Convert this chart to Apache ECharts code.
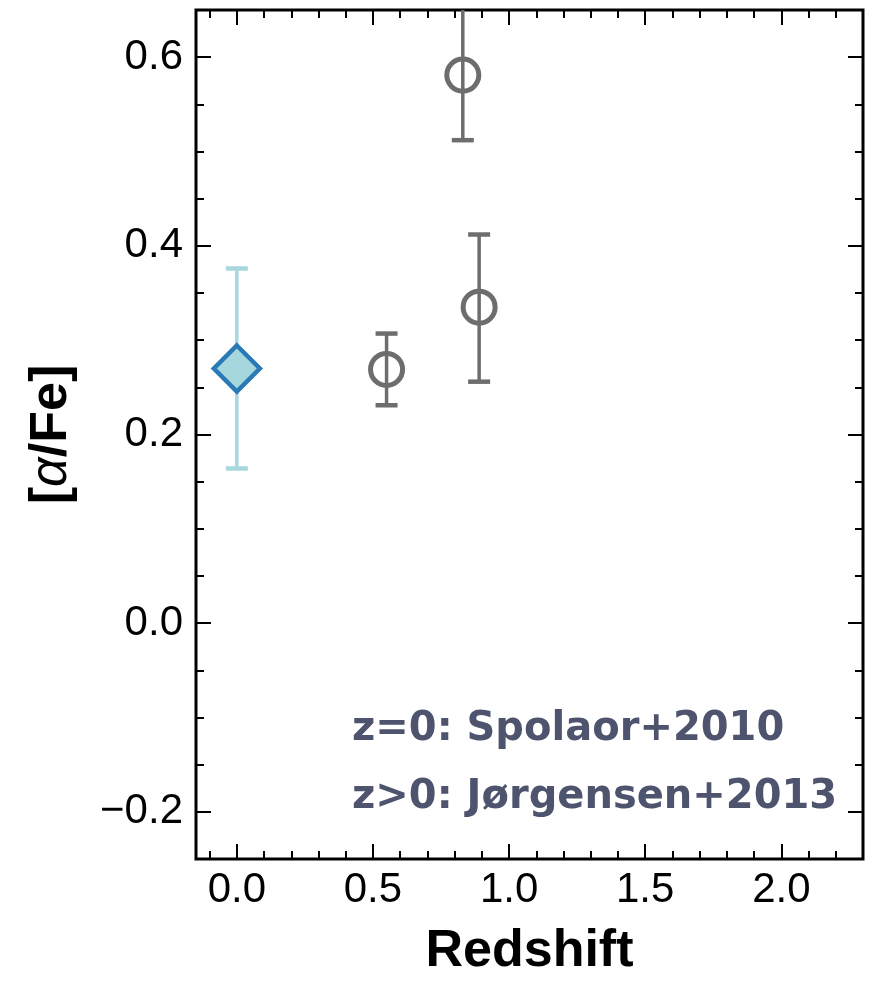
<!DOCTYPE html>
<html>
<head>
<meta charset="utf-8">
<script src="https://cdn.jsdelivr.net/npm/echarts@6/dist/echarts.min.js"></script>
<style>
html,body{margin:0;padding:0;background:#fff;}
#chart{width:875px;height:981px;}
</style>
</head>
<body>
<div id="chart"></div>
<script>
// ---- data ----
const spolaorZ = [0.0];
const spolaorAFe = [0.270];
const spolaorLo = [0.164];
const spolaorHi = [0.376];

const jorgZ = [0.55, 0.83, 0.89];
const jorgAFe = [0.269, 0.581, 0.335];
const jorgLo = [0.231, 0.512, 0.256];
const jorgHi = [0.307, 0.660, 0.412];

const xMajorTicks = [0.0, 0.5, 1.0, 1.5, 2.0];
const xTickLabels = ['0.0', '0.5', '1.0', '1.5', '2.0'];
const xMinorTicks = [-0.1, 0.1, 0.2, 0.3, 0.4, 0.6, 0.7, 0.8, 0.9, 1.1, 1.2, 1.3, 1.4, 1.6, 1.7, 1.8, 1.9, 2.1, 2.2];
const yMajorTicks = [-0.2, 0.0, 0.2, 0.4, 0.6];
const yTickLabels = ['\u22120.2', '0.0', '0.2', '0.4', '0.6'];
const yMinorTicks = [-0.15, -0.1, -0.05, 0.05, 0.1, 0.15, 0.25, 0.3, 0.35, 0.45, 0.5, 0.55];

const annotationLines = ['z=0: Spolaor+2010', 'z>0: J\u00f8rgensen+2013'];

// ---- chart ----
const X_MIN = -0.15, X_MAX = 2.3, Y_MIN = -0.25, Y_MAX = 0.65;
const chart = echarts.init(document.getElementById('chart'), null, {renderer: 'canvas'});

function fmt(labels, ticks) {
  return function (v) {
    for (let i = 0; i < ticks.length; i++) if (Math.abs(ticks[i] - v) < 1e-9) return labels[i];
    return '';
  };
}

function xAxisDef(pos, ticks, len, withLabels) {
  return {
    type: 'value', gridIndex: 0, position: pos, min: X_MIN, max: X_MAX,
    axisLine: {show: false, onZero: false},
    splitLine: {show: false},
    axisTick: {show: true, inside: true, length: len, customValues: ticks, lineStyle: {color: '#000', width: 2}},
    axisLabel: withLabels ? {
      show: true, customValues: xMajorTicks, formatter: fmt(xTickLabels, xMajorTicks),
      fontFamily: 'Liberation Sans', fontSize: 42, color: '#000', margin: 10
    } : {show: false}
  };
}
function yAxisDef(pos, ticks, len, withLabels) {
  return {
    type: 'value', gridIndex: 0, position: pos, min: Y_MIN, max: Y_MAX,
    axisLine: {show: false, onZero: false},
    splitLine: {show: false},
    axisTick: {show: true, inside: true, length: len, customValues: ticks, lineStyle: {color: '#000', width: 2}},
    axisLabel: withLabels ? {
      show: true, customValues: yMajorTicks, formatter: fmt(yTickLabels, yMajorTicks),
      fontFamily: 'Liberation Sans', fontSize: 42, color: '#000', margin: 13
    } : {show: false}
  };
}

const xAxes = [
  Object.assign(xAxisDef('bottom', xMajorTicks, 15, true), {
    name: 'Redshift', nameLocation: 'middle', nameGap: 67,
    nameTextStyle: {fontFamily: 'Liberation Sans', fontWeight: 'bold', fontSize: 52, color: '#000'}
  }),
  xAxisDef('bottom', xMinorTicks, 8, false),
  xAxisDef('top', xMajorTicks, 15, false),
  xAxisDef('top', xMinorTicks, 8, false)
];
const yAxes = [
  Object.assign(yAxisDef('left', yMajorTicks, 15, true), {
    name: '[{i|\u03b1}/Fe]', nameLocation: 'middle', nameGap: 118, nameRotate: 90,
    nameTextStyle: {
      fontFamily: 'Liberation Sans', fontWeight: 'bold', fontSize: 52, color: '#000',
      rich: {i: {fontFamily: 'Liberation Sans', fontStyle: 'italic', fontWeight: 'normal', fontSize: 52, color: '#000'}}
    }
  }),
  yAxisDef('left', yMinorTicks, 8, false),
  yAxisDef('right', yMajorTicks, 15, false),
  yAxisDef('right', yMinorTicks, 8, false)
];

function errorBarSeries(z, lo, hi, color, name) {
  const data = z.map((v, i) => [v, lo[i], hi[i]]);
  return {
    type: 'custom', name: name, xAxisIndex: 0, yAxisIndex: 0, clip: true, z: 2,
    encode: {x: 0, y: [1, 2]},
    data: data,
    renderItem: function (params, api) {
      const x = api.value(0);
      const pLo = api.coord([x, api.value(1)]);
      const pHi = api.coord([x, api.value(2)]);
      const hw = 11;
      const st = {stroke: color, lineWidth: 3.5, fill: null};
      const cs = {stroke: color, lineWidth: 4.5, fill: null};
      return {
        type: 'group',
        children: [
          {type: 'line', shape: {x1: pLo[0], y1: pLo[1], x2: pHi[0], y2: pHi[1]}, style: st},
          {type: 'line', shape: {x1: pLo[0] - hw, y1: pLo[1], x2: pLo[0] + hw, y2: pLo[1]}, style: cs},
          {type: 'line', shape: {x1: pHi[0] - hw, y1: pHi[1], x2: pHi[0] + hw, y2: pHi[1]}, style: cs}
        ]
      };
    }
  };
}

const option = {
  backgroundColor: '#fff',
  animation: false,
  grid: {left: 196, right: 12, top: 10, bottom: 122, show: true, borderColor: '#000', borderWidth: 3,
         backgroundColor: 'transparent', containLabel: false, outerBoundsMode: 'none'},
  xAxis: xAxes,
  yAxis: yAxes,
  series: [
    errorBarSeries(spolaorZ, spolaorLo, spolaorHi, '#a8d8de', 'Spolaor err'),
    errorBarSeries(jorgZ, jorgLo, jorgHi, '#6d6d6d', 'Jorgensen err'),
    {
      type: 'scatter', name: 'Spolaor+2010', xAxisIndex: 0, yAxisIndex: 0, z: 3,
      symbol: 'diamond', symbolSize: [46, 46],
      itemStyle: {color: '#a6d7dd', borderColor: '#2a7ab8', borderWidth: 4.5, opacity: 1},
      data: spolaorZ.map((v, i) => [v, spolaorAFe[i]])
    },
    {
      type: 'scatter', name: 'J\u00f8rgensen+2013', xAxisIndex: 0, yAxisIndex: 0, z: 3,
      symbol: 'circle', symbolSize: 32,
      itemStyle: {color: 'rgba(255,255,255,0)', borderColor: '#6d6d6d', borderWidth: 5, opacity: 1},
      data: jorgZ.map((v, i) => [v, jorgAFe[i]])
    }
  ],
  graphic: [
    {type: 'text', left: 352, top: 710, z: 10,
     style: {text: annotationLines[0], font: 'bold 40px "DejaVu Sans"', fill: '#4f546e'}},
    {type: 'text', left: 352, top: 778, z: 10,
     style: {text: annotationLines[1], font: 'bold 40px "DejaVu Sans"', fill: '#4f546e'}}
  ]
};
chart.setOption(option);
</script>
</body>
</html>
